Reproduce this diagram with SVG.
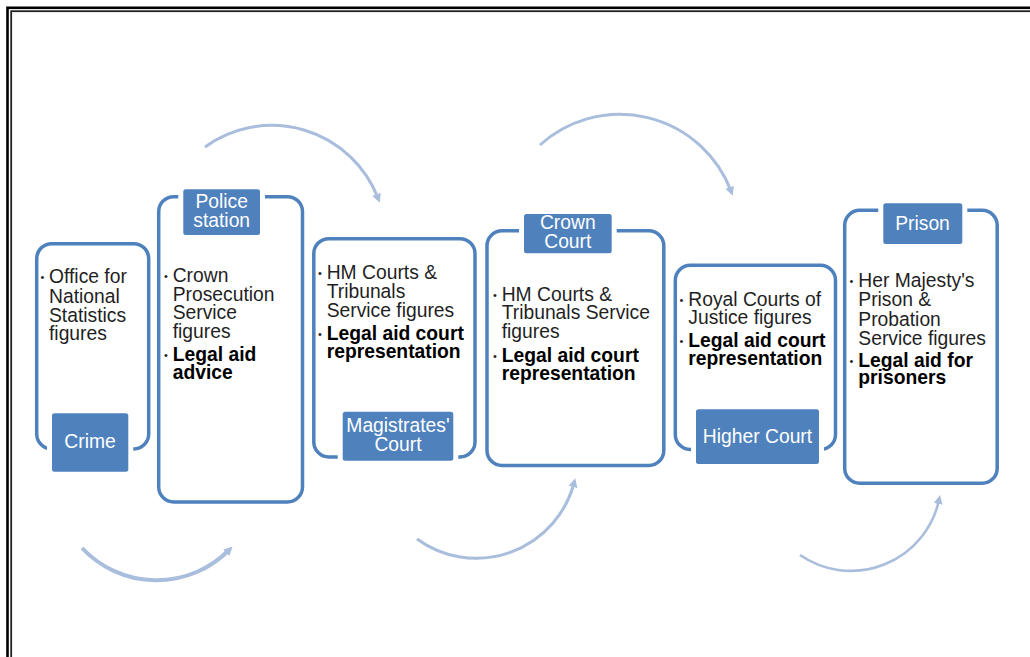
<svg xmlns="http://www.w3.org/2000/svg" width="1030" height="657" viewBox="0 0 1030 657">
<style>
.frame-o{fill:none;stroke:#000;stroke-width:2.6}
.frame-i{fill:none;stroke:#222;stroke-width:1.8}
.outline{fill:#fff;stroke:#4F81BD;stroke-width:3.5}
.label{fill:#4F81BD;stroke:#fff;stroke-width:10;paint-order:stroke}
.lt{font-family:"Liberation Sans",Arial,sans-serif;font-size:19.3px;fill:#fff;text-anchor:middle}
.t{font-family:"Liberation Sans",Arial,sans-serif;font-size:19.3px;fill:#1f1f1f}
.b{font-weight:bold;fill:#000}
.bul{font-family:"Liberation Sans",Arial,sans-serif;font-size:11px;fill:#1f1f1f}
.arc{fill:none;stroke:#A9BDDC;stroke-width:3;marker-end:url(#ah)}
</style>
<defs>
<marker id="ah" markerUnits="userSpaceOnUse" markerWidth="10" markerHeight="10" refX="4" refY="5" orient="auto" viewBox="0 0 10 10">
<path d="M0,0.5 L9,5 L0,9.5 z" fill="#A9BDDC"/>
</marker>
</defs>
<rect width="1030" height="657" fill="#fff"/>
<rect class="frame-o" x="7.5" y="7.8" width="1100" height="700"/>
<rect class="frame-i" x="11.2" y="11.2" width="1100" height="700"/>

<g id="connectors">
<path class="arc" d="M205,147 A114,114 0 0 1 378,198"/>
<path class="arc" d="M540,145 A119,119 0 0 1 731,191"/>
<path class="arc" style="stroke-width:4" d="M82,548 A102,102 0 0 0 229,550"/>
<path class="arc" d="M417,539 A101,101 0 0 0 574,483"/>
<path class="arc" style="stroke-width:2.6" d="M800,555 A90,90 0 0 0 939,500"/>
</g>

<g id="crime">
<rect class="outline" x="36.7" y="243.7" width="112" height="205.3" rx="15"/>
<text class="bul" x="40.5" y="281">•</text>
<text class="t" x="49" y="283.3">Office for</text>
<text class="t" x="49" y="303">National</text>
<text class="t" x="49" y="321.7">Statistics</text>
<text class="t" x="49" y="340">figures</text>
<rect class="label" x="52" y="413.3" width="76.3" height="58.4" rx="2.5"/>
<text class="lt" x="90" y="448.3">Crime</text>
</g>

<g id="police">
<rect class="outline" x="158.7" y="196.7" width="143.8" height="305.3" rx="15"/>
<text class="bul" x="164" y="279.5">•</text>
<text class="t" x="172.7" y="281.7">Crown</text>
<text class="t" x="172.7" y="300.7">Prosecution</text>
<text class="t" x="172.7" y="319.3">Service</text>
<text class="t" x="172.7" y="338.3">figures</text>
<text class="bul" x="164" y="358.8">•</text>
<text class="t b" x="172.7" y="361">Legal aid</text>
<text class="t b" x="172.7" y="379.3">advice</text>
<rect class="label" x="183.3" y="189.3" width="76.7" height="45.7" rx="2.5"/>
<text class="lt" x="221.7" y="208.3">Police</text>
<text class="lt" x="221.7" y="226.7">station</text>
</g>

<g id="magistrates">
<rect class="outline" x="313.8" y="238.7" width="161.2" height="218.3" rx="15"/>
<text class="bul" x="318" y="276.8">•</text>
<text class="t" x="326.7" y="279">HM Courts &amp;</text>
<text class="t" x="326.7" y="297.7">Tribunals</text>
<text class="t" x="326.7" y="317.3">Service figures</text>
<text class="bul" x="318" y="337.8">•</text>
<text class="t b" x="326.7" y="340">Legal aid court</text>
<text class="t b" x="326.7" y="358.3">representation</text>
<rect class="label" x="342.7" y="411.7" width="110.6" height="49" rx="2.5"/>
<text class="lt" x="398" y="432.3">Magistrates'</text>
<text class="lt" x="398" y="450.7">Court</text>
</g>

<g id="crown">
<rect class="outline" x="487" y="230.8" width="176.8" height="234.7" rx="15"/>
<text class="bul" x="493" y="298.5">•</text>
<text class="t" x="501.7" y="300.7">HM Courts &amp;</text>
<text class="t" x="501.7" y="319.3">Tribunals Service</text>
<text class="t" x="501.7" y="337.7">figures</text>
<text class="bul" x="493" y="359.5">•</text>
<text class="t b" x="501.7" y="361.7">Legal aid court</text>
<text class="t b" x="501.7" y="380">representation</text>
<rect class="label" x="524" y="214" width="87.7" height="39.3" rx="2.5"/>
<text class="lt" x="567.8" y="229.3">Crown</text>
<text class="lt" x="567.8" y="247.7">Court</text>
</g>

<g id="higher">
<rect class="outline" x="675.3" y="265.3" width="160.2" height="184.2" rx="15"/>
<text class="bul" x="679.5" y="303.8">•</text>
<text class="t" x="688.3" y="306">Royal Courts of</text>
<text class="t" x="688.3" y="324.3">Justice figures</text>
<text class="bul" x="679.5" y="344.5">•</text>
<text class="t b" x="688.3" y="346.7">Legal aid court</text>
<text class="t b" x="688.3" y="365">representation</text>
<rect class="label" x="696" y="409.3" width="123" height="54.7" rx="2.5"/>
<text class="lt" x="757.5" y="442.7">Higher Court</text>
</g>

<g id="prison">
<rect class="outline" x="844.7" y="210.3" width="152.5" height="272.9" rx="15"/>
<text class="bul" x="849.5" y="285">•</text>
<text class="t" x="858.3" y="287.3">Her Majesty's</text>
<text class="t" x="858.3" y="306">Prison &amp;</text>
<text class="t" x="858.3" y="326">Probation</text>
<text class="t" x="858.3" y="345">Service figures</text>
<text class="bul" x="849.5" y="364.5">•</text>
<text class="t b" x="858.3" y="366.7">Legal aid for</text>
<text class="t b" x="858.3" y="384.3">prisoners</text>
<rect class="label" x="883.3" y="203.3" width="79" height="40.7" rx="2.5"/>
<text class="lt" x="922.5" y="230">Prison</text>
</g>
</svg>
